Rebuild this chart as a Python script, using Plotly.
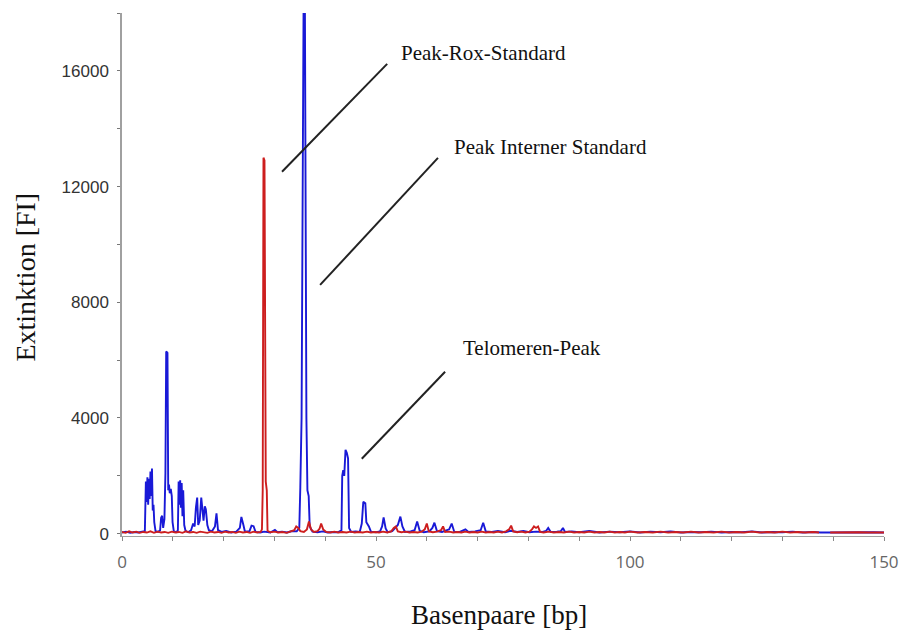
import plotly.graph_objects as go

# ---------------- data ----------------
blue_bp = [0.0, 0.8, 1.6, 2.4, 3.2, 4.0, 4.5, 4.7, 4.85, 5.0, 5.15, 5.3, 5.45, 5.6, 5.75, 5.9, 6.05, 6.2, 6.35, 6.6,
           7.1, 7.5, 7.7, 7.9, 8.1, 8.35, 8.55, 8.7, 8.95, 9.1, 9.25, 9.4, 9.6, 9.8, 9.95, 10.2, 10.7, 11.0, 11.15,
           11.3, 11.45, 11.6, 11.75, 11.9, 12.05, 12.25, 12.5, 13.0, 13.6, 14.0, 14.3, 14.55, 14.8, 15.0, 15.3, 15.6,
           15.85, 16.05, 16.3, 16.5, 16.8, 17.1, 17.7, 18.3, 18.6, 18.9, 19.6, 20.5, 21.5, 22.5, 23.2, 23.5, 23.9,
           24.2, 25.1, 25.5, 25.9, 26.3, 27.2, 28.0, 29.2, 30.1, 30.6, 31.5, 32.5, 33.5, 34.4, 34.9, 35.1, 35.35,
           35.75, 36.0, 36.3, 36.5, 36.75, 36.95, 37.5, 38.5, 39.5, 40.5, 41.5, 42.5, 43.2, 43.35, 43.55, 43.75,
           44.0, 44.25, 44.5, 44.7, 45.1, 46.0, 46.8, 47.2, 47.5, 47.9, 48.1, 48.6, 49.0, 50.0, 50.8, 51.2, 51.5,
           51.9, 52.3, 53.2, 54.3, 54.8, 55.2, 55.7, 56.8, 57.6, 58.1, 58.6, 59.4, 60.5, 61.1, 61.5, 62.0, 63.0,
           64.4, 64.9, 65.4, 66.5, 67.6, 68.2, 69.5, 70.6, 71.1, 71.6, 72.8, 74.0, 75.4, 76.5, 77.8, 79.0, 80.2,
           81.5, 82.8, 83.5, 83.9, 84.4, 85.6, 86.4, 86.8, 87.2, 88.5, 90, 92, 94, 96, 98, 100, 102, 104, 106, 108,
           110, 112, 114, 116, 118, 120, 122, 124, 126, 128, 130, 132, 134, 136, 137.5, 139.5, 142, 145, 148, 150]
blue_fi = [40, 70, 30, 60, 40, 70, 90, 1800, 1100, 1950, 1000, 1900, 1200, 2150, 1300, 2250, 800, 1000, 400, 90,
           60, 120, 550, 620, 200, 500, 2100, 6300, 6250, 1500, 1700, 1400, 1550, 1300, 400, 80, 50, 120, 1800,
           1000, 1850, 900, 1750, 600, 1500, 300, 100, 50, 120, 350, 250, 900, 1250, 300, 450, 1250,
           700, 450, 950, 850, 300, 120, 80, 250, 700, 120, 60, 90, 40, 70, 200, 580, 300,
           70, 90, 280, 260, 60, 40, 70, 40, 130, 50, 70, 40, 90, 80, 200, 1600, 4000,
           18500, 18500, 4000, 1500, 1300, 250, 70, 50, 80, 40, 60, 50, 120, 2000, 2200, 2000,
           2900, 2800, 2600, 200, 60, 80, 60, 350, 1100, 1050, 400, 250, 70, 50, 80, 250, 560,
           180, 50, 90, 300, 590, 250, 60, 80, 120, 420, 100, 50, 80, 200, 380, 90, 60,
           150, 350, 70, 60, 150, 60, 80, 120, 380, 80, 60, 90, 50, 100, 60, 90, 50,
           70, 60, 100, 200, 60, 70, 90, 200, 60, 80, 50, 90, 40, 70, 50, 80, 40, 70, 50, 80,
           40, 60, 50, 70, 40, 60, 50, 80, 40, 60, 50, 70, 40, 60, 40, 40, 50, 40, 50, 40]

red_bp = [0, 0.7, 1.4, 2.1, 2.8, 3.5, 4.2, 4.9, 5.6, 6.3, 7.0, 7.7, 8.4, 9.1, 9.8, 10.5, 11.2, 11.9, 12.6, 13.3,
          14.0, 14.7, 15.4, 16.1, 16.8, 17.5, 18.2, 18.9, 19.6, 20.3, 21.0, 21.7, 22.4, 23.1, 23.8, 24.5, 25.2,
          25.9, 26.6, 27.3, 27.55, 27.7, 27.85, 28.05, 28.3, 28.5, 28.65, 29.2, 30.0, 30.8, 31.6, 32.4, 33.2,
          33.9, 34.3, 34.7, 35.1, 35.8, 36.4, 36.8, 37.2, 37.8, 38.5, 38.9, 39.2, 39.6, 40.2, 41.0, 41.8, 42.6,
          43.4, 44.2, 45.0, 45.8, 46.6, 47.4, 48.2, 49.0, 49.8, 50.6, 51.4, 52.2, 53.0, 53.5, 53.9, 54.3, 55.0,
          55.8, 56.6, 57.4, 58.2, 59.0, 59.6, 60.0, 60.4, 61.2, 62.0, 62.8, 63.2, 63.6, 64.4, 65.2, 66.0, 66.8,
          67.6, 68.4, 69.2, 70.0, 70.8, 71.6, 72.4, 73.2, 74.0, 74.8, 75.6, 76.2, 76.6, 77.0, 77.8, 78.6, 79.4,
          80.2, 80.7, 81.1, 81.5, 81.9, 82.3, 83.0, 84, 85, 86, 87, 88, 89, 90, 91, 92, 93, 94, 95, 96, 97, 98,
          99, 100, 101.5, 103, 104.5, 106, 107.5, 109, 110.5, 112, 113.5, 115, 116.5, 118, 119.5, 121, 122.5,
          124, 125.5, 127, 128.5, 130, 131.5, 133, 134.5, 136, 137.2, 137.3, 139.4, 141, 143, 145, 147, 150]
red_fi = [60, 30, 80, 40, 70, 30, 60, 40, 80, 30, 70, 40, 60, 30, 70, 40, 60, 30, 80, 40,
          60, 30, 70, 50, 30, 70, 40, 60, 30, 70, 40, 60, 30, 70, 40, 60, 30,
          70, 40, 60, 150, 1500, 13000, 12900, 1800, 1500, 100, 50, 70, 40, 60, 30, 80,
          120, 250, 200, 90, 60, 150, 420, 150, 60, 90, 180, 350, 150, 60, 40, 70, 40,
          60, 40, 70, 40, 60, 40, 70, 40, 60, 40, 70, 40, 80, 200, 250, 80, 50,
          70, 40, 60, 40, 70, 150, 350, 80, 50, 70, 120, 250, 60, 70, 40, 60, 40,
          70, 40, 60, 40, 70, 40, 60, 40, 70, 40, 80, 150, 280, 80, 50, 70, 40,
          70, 150, 250, 200, 250, 60, 40, 70, 40, 60, 40, 70, 40, 60, 40, 70, 40, 60, 40, 70, 40, 60,
          40, 70, 40, 60, 40, 70, 40, 60, 40, 70, 40, 60, 40, 70, 40, 60, 40,
          70, 40, 60, 40, 70, 40, 60, 40, 60, 40, None, 40, 50, 40, 50, 40, 40]

x_ticks = [0, 50, 100, 150]
y_ticks = [0, 4000, 8000, 12000, 16000]

labels = ["Peak-Rox-Standard", "Peak Interner Standard", "Telomeren-Peak"]
label_bp = [71.2, 84.3, 80.8]
label_fi = [16620, 13370, 6430]
leader_from_bp = [31.5, 39.0, 47.2]
leader_from_fi = [12510, 8600, 2590]
leader_to_bp = [52.2, 62.2, 63.6]
leader_to_fi = [16240, 12990, 5600]

# ---------------- figure ----------------
fig = go.Figure()
fig.add_trace(go.Scatter(x=blue_bp, y=blue_fi, mode="lines",
                         line=dict(color="rgb(25,25,215)", width=1.9), showlegend=False))
fig.add_trace(go.Scatter(x=red_bp, y=red_fi, mode="lines", connectgaps=False,
                         line=dict(color="rgb(205,30,30)", width=1.9), showlegend=False))

for i in range(len(labels)):
    fig.add_shape(type="line", xref="x", yref="y",
                  x0=leader_from_bp[i], y0=leader_from_fi[i], x1=leader_to_bp[i], y1=leader_to_fi[i],
                  line=dict(color="#222222", width=2))
    fig.add_annotation(x=label_bp[i], y=label_fi[i], xref="x", yref="y", text=labels[i],
                       showarrow=False, xanchor="center", yanchor="middle",
                       font=dict(family="Liberation Serif", size=21, color="#111111"))

fig.add_annotation(x=0.4954, y=-0.151, xref="paper", yref="paper", text="Basenpaare [bp]",
                   showarrow=False, xanchor="center", yanchor="middle",
                   font=dict(family="Liberation Serif", size=27, color="#111111"))
fig.add_annotation(x=-0.126, y=0.496, xref="paper", yref="paper", text="Extinktion [FI]",
                   showarrow=False, xanchor="center", yanchor="middle", textangle=-90,
                   font=dict(family="Liberation Serif", size=28, color="#111111"))

fig.update_layout(
    width=902, height=635,
    margin=dict(l=122, r=18, t=13, b=99),
    paper_bgcolor="white", plot_bgcolor="white",
    showlegend=False,
)
fig.update_xaxes(range=[0, 150], tickvals=x_ticks, ticktext=[str(v) for v in x_ticks], automargin=False,
                 showgrid=False, zeroline=False, showline=True, linecolor="#a0a0a0", linewidth=1,
                 ticks="outside", ticklen=4, tickcolor="#888888",
                 minor=dict(dtick=10, tick0=0, ticks="outside", ticklen=4, tickcolor="#888888"),
                 tickfont=dict(family="Open Sans", size=17, color="#666666"), ticklabelstandoff=7)
fig.update_yaxes(range=[-80, 18080 - 80], tickvals=y_ticks, ticktext=[str(v) for v in y_ticks], automargin=False,
                 showgrid=False, zeroline=False, showline=True, linecolor="#a0a0a0", linewidth=1.5,
                 ticks="outside", ticklen=3, tickcolor="#777777",
                 minor=dict(dtick=2000, tick0=0, ticks="outside", ticklen=3, tickcolor="#777777"),
                 tickfont=dict(family="Liberation Sans", size=17, color="#333333"), ticklabelstandoff=5)

fig.write_html("out.html", config={"displayModeBar": False})
